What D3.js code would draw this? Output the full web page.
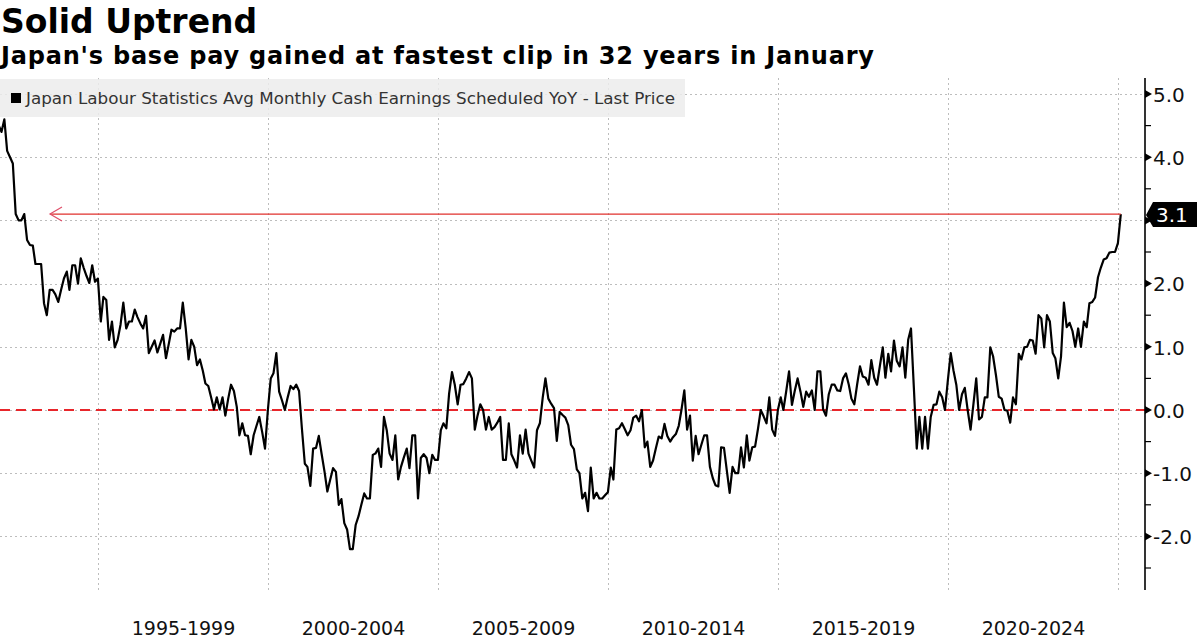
<!DOCTYPE html>
<html>
<head>
<meta charset="utf-8">
<script src="https://cdn.jsdelivr.net/npm/d3@7"></script>
<style>
  html, body { margin: 0; padding: 0; background: #ffffff; }
  svg { display: block; font-family: "DejaVu Sans", Verdana, sans-serif; }
</style>
</head>
<body>
<svg id="chart" width="1197" height="641"></svg>
<script>
// ---------------- DATA ----------------
const titleText = "Solid Uptrend";
const subtitleText = "Japan's base pay gained at fastest clip in 32 years in January";
const legendLabel = "Japan Labour Statistics Avg Monthly Cash Earnings Scheduled YoY - Last Price";

// first observation: January 1992, monthly thereafter (month-end dates)
const firstYear = 1992;
const yoy1992_1996 = [
  4.5, 4.40, 4.6, 4.1, 4.0, 3.9, 3.1, 3.0, 3.0, 3.1, 2.69, 2.61,
  2.6, 2.31, 2.31, 2.31, 1.69, 1.50, 1.90, 1.90, 1.83, 1.71, 1.9, 2.08,
  2.19, 1.90, 2.29, 2.29, 2.0, 2.40, 2.25, 2.12, 2.01, 2.29, 2.03, 2.08,
  1.40, 1.79, 1.74, 1.11, 1.40, 0.99, 1.11, 1.35, 1.70, 1.29, 1.40, 1.40,
  1.59, 1.47, 1.37, 1.29, 1.49, 0.90, 1.0, 1.10, 0.91, 1.05, 1.19, 0.82
];
const yoy1997_2001 = [
  1.05, 1.27, 1.24, 1.29, 1.29, 1.70, 1.3, 0.80, 1.11, 1.0, 0.71, 0.80,
  0.62, 0.42, 0.38, 0.2, 0.01, 0.20, 0.01, 0.2, -0.09, 0.18, 0.40, 0.30,
  0.05, -0.40, -0.21, -0.40, -0.41, -0.70, -0.40, -0.25, -0.11, -0.35, -0.61, 0.0,
  0.50, 0.58, 0.90, 0.29, 0.15, 0.0, 0.2, 0.38, 0.33, 0.40, 0.3, -0.3,
  -0.85, -0.90, -1.20, -0.61, -0.60, -0.41, -0.70, -0.98, -1.29, -1.1, -0.92, -0.98
];
const yoy2002_2006 = [
  -1.50, -1.41, -1.79, -1.89, -2.20, -2.20, -1.82, -1.68, -1.5, -1.32, -1.40, -1.40,
  -0.71, -0.69, -0.61, -0.90, -0.11, -0.32, -0.69, -0.79, -0.40, -1.10, -0.9, -0.75,
  -0.61, -0.92, -0.40, -0.40, -1.40, -0.76, -0.70, -0.76, -1.0, -0.71, -0.79, -0.79,
  -0.32, -0.21, -0.29, 0.26, 0.60, 0.40, 0.09, 0.40, 0.41, 0.5, 0.60, 0.50,
  -0.31, -0.1, 0.09, 0.0, -0.31, -0.11, -0.31, -0.27, -0.2, -0.11, -0.79, -0.79
];
const yoy2007_2011 = [
  -0.21, -0.70, -0.8, -0.91, -0.40, -0.69, -0.31, -0.69, -0.8, -0.91, -0.32, -0.21,
  0.2, 0.50, 0.18, 0.1, 0.03, -0.49, -0.03, -0.08, -0.12, -0.24, -0.55, -0.62,
  -0.94, -1.0, -1.40, -1.31, -1.60, -0.91, -1.40, -1.31, -1.40, -1.40, -1.35, -1.30,
  -0.91, -1.10, -0.31, -0.29, -0.21, -0.3, -0.40, -0.32, -0.12, -0.09, -0.18, 0.0,
  -0.59, -0.50, -0.90, -0.80, -0.6, -0.42, -0.45, -0.22, -0.41, -0.50, -0.43, -0.38
];
const yoy2012_2016 = [
  -0.25, 0.0, 0.31, -0.31, -0.09, -0.80, -0.41, -0.70, -0.55, -0.40, -0.40, -0.9,
  -1.08, -1.19, -1.21, -0.59, -0.60, -0.95, -1.31, -0.90, -1.0, -1.0, -0.59, -0.91,
  -0.40, -0.80, -0.59, -0.58, -0.3, 0.0, -0.1, -0.21, 0.20, -0.31, -0.41, 0.0,
  0.20, 0.0, 0.3, 0.61, 0.08, 0.3, 0.50, 0.29, 0.05, 0.29, 0.21, 0.31,
  0.0, 0.61, 0.61, 0.01, -0.09, 0.25, 0.40, 0.40, 0.31, 0.30, 0.5, 0.58
];
const yoy2017_2021 = [
  0.4, 0.18, 0.09, 0.4, 0.69, 0.53, 0.51, 0.40, 0.79, 0.51, 0.40, 0.7,
  0.99, 0.51, 0.89, 0.61, 1.10, 0.78, 0.69, 0.99, 0.51, 1.11, 1.29, 0.35,
  -0.61, -0.11, -0.61, -0.11, -0.61, -0.11, 0.08, 0.09, 0.29, 0.2, 0.0, 0.47,
  0.90, 0.63, 0.40, 0.0, 0.25, 0.35, 0.0, -0.31, 0.08, 0.50, -0.15, -0.11,
  0.20, 0.20, 0.99, 0.85, 0.55, 0.21, 0.18, 0.0, -0.01, -0.20, 0.20, 0.09
];
const yoy2022_2025 = [
  0.89, 0.80, 0.99, 1.0, 1.11, 1.10, 0.89, 1.50, 1.45, 0.99, 1.50, 1.40,
  0.90, 0.82, 0.50, 0.85, 1.70, 1.31, 1.38, 1.25, 1.0, 1.29, 1.0, 1.40,
  1.31, 1.69, 1.71, 1.78, 2.10, 2.25, 2.38, 2.40, 2.49, 2.50, 2.50, 2.64,
  3.1
];
const lastPrice = 3.1;

const periodLabels = ["1995-1999", "2000-2004", "2005-2009", "2010-2014", "2015-2019", "2020-2024"];
const periodBoundaryYears = [1995, 2000, 2005, 2010, 2015, 2020, 2025];
const yGridValues = [-2, -1, 0, 1, 2, 3, 4, 5];
const yLabelValues = [-2, -1, 0, 1, 2, 4, 5]; // 3.0 is hidden behind the last-price tag
const yMinorValues = [-2.5, -1.5, -0.5, 0.5, 1.5, 2.5, 3.5, 4.5];

// ---------------- BUILD ----------------
const allValues = [].concat(yoy1992_1996, yoy1997_2001, yoy2002_2006, yoy2007_2011,
                            yoy2012_2016, yoy2017_2021, yoy2022_2025);
const series = allValues.map((v, i) => ({ date: new Date(firstYear, i + 1, 0), value: v }));

const svg = d3.select("#chart");
const W = 1197, H = 641;
const plot = { left: 0, right: 1145, top: 78, bottom: 590 };

const x = d3.scaleTime()
  .domain([new Date(1995, 0, 1), new Date(2025, 0, 1)])
  .range([98, 1118]);
const y = d3.scaleLinear().domain([-2, 5]).range([536.4, 94]);

svg.append("rect").attr("width", W).attr("height", H).attr("fill", "#ffffff");

// clip
svg.append("defs").append("clipPath").attr("id", "plotClip")
  .append("rect").attr("x", plot.left).attr("y", plot.top)
  .attr("width", plot.right - plot.left).attr("height", plot.bottom - plot.top);

// grid
const grid = svg.append("g");
grid.selectAll("line.h").data(yGridValues).join("line")
  .attr("x1", plot.left).attr("x2", plot.right)
  .attr("y1", d => Math.round(y(d)) + 0.5).attr("y2", d => Math.round(y(d)) + 0.5)
  .attr("stroke", "#bdbdbd").attr("stroke-width", 1).attr("stroke-dasharray", "2,3");
grid.selectAll("line.v").data(periodBoundaryYears).join("line")
  .attr("x1", d => Math.round(x(new Date(d, 0, 1))) + 0.5)
  .attr("x2", d => Math.round(x(new Date(d, 0, 1))) + 0.5)
  .attr("y1", plot.top).attr("y2", plot.bottom)
  .attr("stroke", "#bdbdbd").attr("stroke-width", 1).attr("stroke-dasharray", "2,3");

// legend box (semi transparent so grid shows through)
const legend = svg.append("g");
legend.append("rect").attr("x", 0).attr("y", 79).attr("width", 685).attr("height", 38)
  .attr("fill", "#ececec").attr("fill-opacity", 0.85);
legend.append("rect").attr("x", 11).attr("y", 93).attr("width", 10).attr("height", 10).attr("fill", "#000");
legend.append("text").attr("x", 26).attr("y", 104)
  .attr("font-family", "'DejaVu Sans', sans-serif")
  .attr("font-size", 16).attr("fill", "#333")
  .attr("textLength", 649).attr("lengthAdjust", "spacingAndGlyphs")
  .text(legendLabel);

// zero line
svg.append("line")
  .attr("x1", plot.left).attr("x2", plot.right)
  .attr("y1", y(0)).attr("y2", y(0))
  .attr("stroke", "#e8262b").attr("stroke-width", 2).attr("stroke-dasharray", "10,6");

// series line
const line = d3.line().x(d => x(d.date)).y(d => y(d.value)).curve(d3.curveLinear);
svg.append("path").datum(series)
  .attr("clip-path", "url(#plotClip)")
  .attr("d", line).attr("fill", "none")
  .attr("stroke", "#000").attr("stroke-width", 2.2).attr("stroke-linejoin", "round");

// red reference arrow at last value
const lastPt = series[series.length - 1];
const refY = y(lastPrice);
const arrowTipX = 50;
svg.append("line")
  .attr("x1", x(lastPt.date)).attr("x2", arrowTipX)
  .attr("y1", refY).attr("y2", refY)
  .attr("stroke", "#e0302c").attr("stroke-width", 1.2);
svg.append("path")
  .attr("d", `M${arrowTipX + 12},${refY - 7} L${arrowTipX},${refY} L${arrowTipX + 12},${refY + 7}`)
  .attr("fill", "none").attr("stroke", "#e0506a").attr("stroke-width", 1.2);

// y axis (right)
const yAxisG = svg.append("g").attr("transform", `translate(${plot.right},0)`);
yAxisG.call(d3.axisRight(y).tickValues(yLabelValues).tickFormat(d => d.toFixed(1))
  .tickSize(0).tickPadding(8));
yAxisG.select(".domain").remove();
yAxisG.selectAll(".tick text")
  .attr("font-family", "'DejaVu Sans', sans-serif").attr("font-size", 20)
  .attr("fill", "#111").attr("x", 8).attr("dy", "0.36em");
yAxisG.selectAll("path.major").data(yGridValues).join("path")
  .attr("transform", d => `translate(0,${y(d)})`)
  .attr("d", "M0,-4 L7,0 L0,4 Z").attr("fill", "#000");
yAxisG.append("line").attr("x1", 0).attr("x2", 0).attr("y1", plot.top).attr("y2", plot.bottom)
  .attr("stroke", "#000").attr("stroke-width", 1.6);
yAxisG.selectAll("line.minor").data(yMinorValues).join("line")
  .attr("x1", 0).attr("x2", 6).attr("y1", d => y(d)).attr("y2", d => y(d))
  .attr("stroke", "#000").attr("stroke-width", 1.2);

// last value tag
const tag = svg.append("g");
tag.append("path")
  .attr("d", `M${plot.right + 1},${refY + 1} L${plot.right + 8},${refY - 12} L1197,${refY - 12} L1197,${refY + 13} L${plot.right + 8},${refY + 13} Z`)
  .attr("fill", "#000");
tag.append("text").attr("x", plot.right + 11).attr("y", refY + 1).attr("dy", "0.36em")
  .attr("font-size", 20).attr("fill", "#fff").text(lastPrice.toFixed(1));

// x axis labels (centred in each 5-year band)
const midDates = periodBoundaryYears.slice(0, -1).map(yr =>
  new Date((new Date(yr, 0, 1).getTime() + new Date(yr + 5, 0, 1).getTime()) / 2));
const xAxisG = svg.append("g").attr("transform", `translate(0,${plot.bottom})`);
xAxisG.call(d3.axisBottom(x).tickValues(midDates).tickFormat((d, i) => periodLabels[i])
  .tickSize(0).tickPadding(32));
xAxisG.select(".domain").remove();
xAxisG.selectAll(".tick text")
  .attr("font-family", "'DejaVu Sans', sans-serif").attr("font-size", 19).attr("fill", "#111");

// titles
svg.append("text").attr("x", 1).attr("y", 33)
  .attr("font-size", 33).attr("font-weight", "bold").attr("fill", "#000").text(titleText);
svg.append("text").attr("x", 1).attr("y", 64)
  .attr("font-size", 24).attr("font-weight", "bold").attr("fill", "#000")
  .attr("textLength", 873).attr("lengthAdjust", "spacing")
  .text(subtitleText);
</script>
</body>
</html>
